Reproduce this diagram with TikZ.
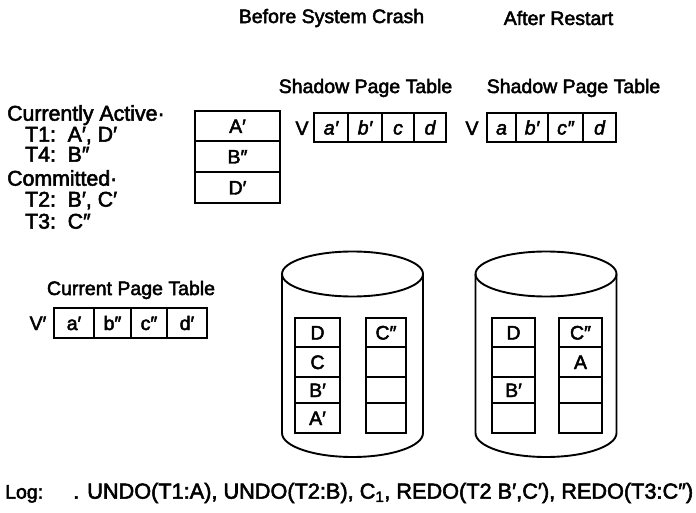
\documentclass[tikz,border=0pt]{standalone}
\usepackage{fontspec}
\setmainfont{Liberation Sans}[FakeBold=2.5]
\begin{document}
\begin{tikzpicture}[x=1pt,y=-1pt,
  every node/.style={font=\fontsize{19.5}{22}\selectfont, inner sep=0pt},
  lbl/.style={anchor=mid west},
  big/.style={font=\fontsize{21.3}{24}\selectfont},
  ctr/.style={anchor=center},
  cell/.style={draw, line width=1.8pt, anchor=center, text height=14pt, text depth=0pt},
  drum/.style={line width=1.9pt}]
\useasboundingbox (0,0) rectangle (696,513);

% headers
\node[ctr] (hbefore) at (331.5,18) {Before System Crash};
\node[ctr] (hafter) at (558.5,18) {After Restart};

% left legend
\node[lbl, big] (active) at (7,118) {Currently Active·};
\node[lbl, big] (t1) at (25,139) {T1:\hspace{0.55em}A′, D′};
\node[lbl, big] (t4) at (25,159) {T4:\hspace{0.55em}B″};
\node[lbl, big] (committed) at (7,183) {Committed·};
\node[lbl, big] (t2) at (25,204) {T2:\hspace{0.55em}B′, C′};
\node[lbl, big] (t3) at (25,226) {T3:\hspace{0.55em}C″};

% stack
\node[cell, minimum width=85pt, minimum height=30pt] (sA) at (237.5,126) {A′};
\node[cell, minimum width=85pt, minimum height=31pt] (sB) at (237.5,156.5) {B″};
\node[cell, minimum width=85pt, minimum height=31pt] (sD) at (237.5,187.5) {D′};

% shadow page table 1
\node[ctr] (spt1) at (365.5,88) {Shadow Page Table};
\node[cell, draw=none, minimum width=14pt] (v1) at (302,128) {V};
\node[cell, minimum width=34pt, minimum height=29pt] (p1a) at (331,127.5) {\itshape a′};
\node[cell, minimum width=34pt, minimum height=29pt] (p1b) at (365,127.5) {\itshape b′};
\node[cell, minimum width=32pt, minimum height=29pt] (p1c) at (398,127.5) {\itshape c};
\node[cell, minimum width=32pt, minimum height=29pt] (p1d) at (430,127.5) {\itshape d};

% shadow page table 2
\node[ctr] (spt2) at (573.5,88) {Shadow Page Table};
\node[cell, draw=none, minimum width=14pt] (v2) at (472,128) {V};
\node[cell, minimum width=29pt, minimum height=29pt] (p2a) at (501.5,127.5) {\itshape a};
\node[cell, minimum width=32pt, minimum height=29pt] (p2b) at (532,127.5) {\itshape b′};
\node[cell, minimum width=35pt, minimum height=29pt] (p2c) at (565.5,127.5) {\itshape c″};
\node[cell, minimum width=33pt, minimum height=29pt] (p2d) at (599.5,127.5) {\itshape d};

% current page table
\node[ctr] (cpt) at (131,290) {Current Page Table};
\node[cell, draw=none, minimum width=20pt] (vc) at (38,323) {V′};
\node[cell, minimum width=40pt, minimum height=30pt] (c1) at (74,323) {a′};
\node[cell, minimum width=37pt, minimum height=30pt] (c2) at (112.5,323) {b″};
\node[cell, minimum width=36pt, minimum height=30pt] (c3) at (149,323) {c″};
\node[cell, minimum width=40pt, minimum height=30pt] (c4) at (187,323) {d′};

% cylinders
\draw[drum] (352.5,274) ellipse (70.5 and 22.5);
\draw[drum] (282,274) -- (282,433) arc (180:0:70.5 and 24) -- (423,274);
\draw[drum] (546,274) ellipse (70.5 and 22.5);
\draw[drum] (475.5,274) -- (475.5,433) arc (180:0:70.5 and 24) -- (616.5,274);

% left cylinder columns
\node[cell, minimum width=45pt, minimum height=29pt] (l1) at (317.5,332.5) {D};
\node[cell, minimum width=45pt, minimum height=30pt] (l2) at (317.5,362) {C};
\node[cell, minimum width=45pt, minimum height=26pt] (l3) at (317.5,390) {B′};
\node[cell, minimum width=45pt, minimum height=30pt] (l4) at (317.5,418) {A′};
\node[cell, minimum width=40pt, minimum height=29pt] (r1) at (386,332.5) {C″};
\node[cell, minimum width=40pt, minimum height=30pt] (r2) at (386,362) {};
\node[cell, minimum width=40pt, minimum height=26pt] (r3) at (386,390) {};
\node[cell, minimum width=40pt, minimum height=30pt] (r4) at (386,418) {};

% right cylinder columns
\node[cell, minimum width=43pt, minimum height=29pt] (L1) at (513.5,332.5) {D};
\node[cell, minimum width=43pt, minimum height=30pt] (L2) at (513.5,362) {};
\node[cell, minimum width=43pt, minimum height=26pt] (L3) at (513.5,390) {B′};
\node[cell, minimum width=43pt, minimum height=30pt] (L4) at (513.5,418) {};
\node[cell, minimum width=43pt, minimum height=29pt] (R1) at (580.5,332.5) {C″};
\node[cell, minimum width=43pt, minimum height=30pt] (R2) at (580.5,362) {A};
\node[cell, minimum width=43pt, minimum height=26pt] (R3) at (580.5,390) {};
\node[cell, minimum width=43pt, minimum height=30pt] (R4) at (580.5,418) {};

% log
\node[lbl] (log) at (5,496) {Log:};
\node[lbl, font=\fontsize{21.7}{24}\selectfont] (logtext) at (73,496) {. UNDO(T1:A), UNDO(T2:B), C\textsubscript{1}, REDO(T2 B′,C′), REDO(T3:C″)};
\end{tikzpicture}
\end{document}
